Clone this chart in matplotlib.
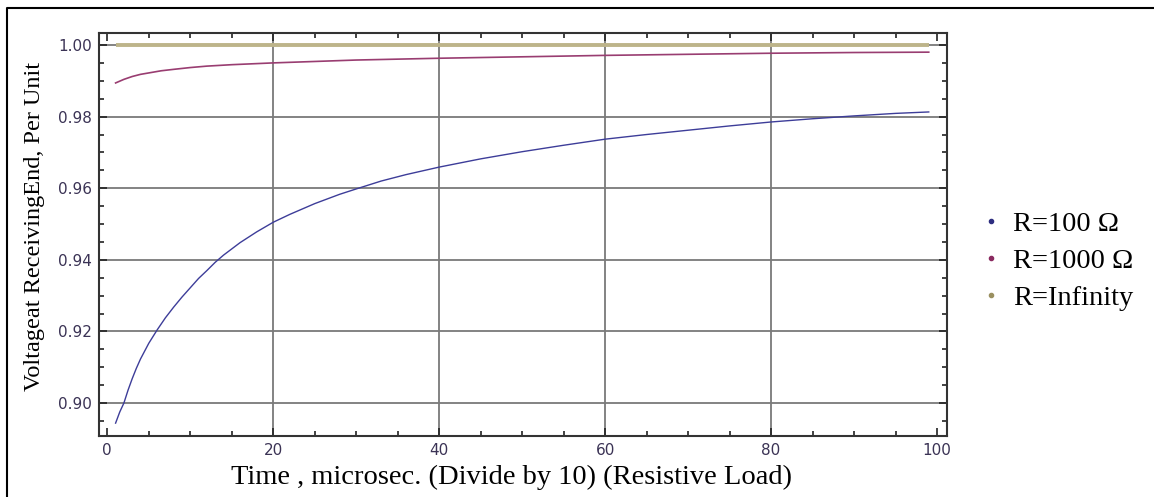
import matplotlib.pyplot as plt
from matplotlib.lines import Line2D
from matplotlib.ticker import MultipleLocator

# values
t_100 = [1, 1.5, 2, 2.5, 3, 3.5, 4, 5, 6, 7, 8, 9, 10, 11, 12, 13, 14, 16, 18, 20,
         22, 25, 28, 30, 33, 36, 40, 45, 50, 55, 60, 65, 70, 75, 80, 85, 90, 95, 99]
v_100 = [0.8944, 0.8975, 0.9000, 0.9036, 0.9068, 0.9097, 0.9123, 0.9167, 0.9204, 0.9238,
         0.9268, 0.9296, 0.9322, 0.9348, 0.9370, 0.9393, 0.9413, 0.9448, 0.9478, 0.9505,
         0.9527, 0.9557, 0.9583, 0.9598, 0.9620, 0.9638, 0.9659, 0.9682, 0.9702, 0.9720,
         0.9737, 0.9750, 0.9762, 0.9774, 0.9785, 0.9794, 0.9802, 0.9809, 0.9813]

t_1000 = [1, 2, 3, 4, 5, 6.5, 8, 10, 12, 15, 20, 25, 30, 40, 50, 60, 70, 80, 90, 99]
v_1000 = [0.9894, 0.9904, 0.9912, 0.9918, 0.9922, 0.9928, 0.9932, 0.9937, 0.9941, 0.9945,
          0.9950, 0.9954, 0.9958, 0.9963, 0.9967, 0.9971, 0.9974, 0.9977, 0.9979, 0.9980]

t_inf = [1, 99]
v_inf = [1.0, 1.0]

labels = ['R=100 \u03a9', 'R=1000 \u03a9', 'R=Infinity']
line_colors = ['#3d3d99', '#993d71', '#bdb48a']
dot_colors = ['#2e2e80', '#8a2a60', '#9a9060']

serif = ['Liberation Serif', 'DejaVu Serif']

fig = plt.figure(figsize=(11.54, 4.97), dpi=100)
ax = fig.add_axes([99 / 1154, 1 - 436 / 497, 848 / 1154, 403 / 497])

ax.plot(t_100, v_100, color=line_colors[0], lw=1.0, zorder=3)
ax.plot(t_1000, v_1000, color=line_colors[1], lw=1.2, zorder=3)
ax.plot(t_inf, v_inf, color=line_colors[2], lw=2.8, zorder=3, solid_capstyle='butt')

ax.set_xlim(-1.0, 101.2)
ax.set_ylim(0.8908, 1.00335)

ax.xaxis.set_major_locator(MultipleLocator(20))
ax.xaxis.set_minor_locator(MultipleLocator(5))
ax.yaxis.set_major_locator(MultipleLocator(0.02))
ax.yaxis.set_minor_locator(MultipleLocator(0.005))
ax.yaxis.set_major_formatter(plt.FuncFormatter(lambda v, p: '%.2f' % v))

# grid lines like mathematica (inner majors only)
for gx in [20, 40, 60, 80]:
    ax.axvline(gx, color='#7a7a7a', lw=1.3, zorder=1)
for gy in [0.90, 0.92, 0.94, 0.96, 0.98, 1.00]:
    ax.axhline(gy, color='#7a7a7a', lw=1.3, zorder=1)

ax.tick_params(which='both', direction='in', top=True, right=True, color='#222222', width=1.2)
ax.tick_params(which='major', length=6, labelsize=11, labelcolor='#3b3355', pad=5)
ax.tick_params(which='minor', length=3.5)
for lab in ax.get_xticklabels() + ax.get_yticklabels():
    lab.set_family('DejaVu Sans')
for sp in ax.spines.values():
    sp.set_color('#333333')
    sp.set_linewidth(1.5)

ax.set_xlabel('Time , microsec. (Divide by 10) (Resistive Load)', family=serif, fontsize=20.5)
ax.set_ylabel('Voltageat ReceivingEnd, Per Unit', family=serif, fontsize=17.5)
ax.xaxis.set_label_coords(0.487, -0.072)
ax.yaxis.set_label_coords(-0.064, 0.52)

handles = [Line2D([], [], ls='none', marker='o', ms=3, color=c) for c in dot_colors]
fig.legend(handles, labels, loc='center left', bbox_to_anchor=(965 / 1154, 1 - 261 / 497),
           frameon=False, prop={'family': serif, 'size': 20.5}, handlelength=1.0,
           handletextpad=0.3, labelspacing=0.4, borderaxespad=0)

# outer frame, only left and top edges show in the cropped reference
fig.add_artist(Line2D([7 / 1154, 7 / 1154, 1.0], [0.0, 1 - 8 / 497, 1 - 8 / 497],
                      transform=fig.transFigure, color='black', lw=1.5))

fig.savefig('out.png', dpi=100)
